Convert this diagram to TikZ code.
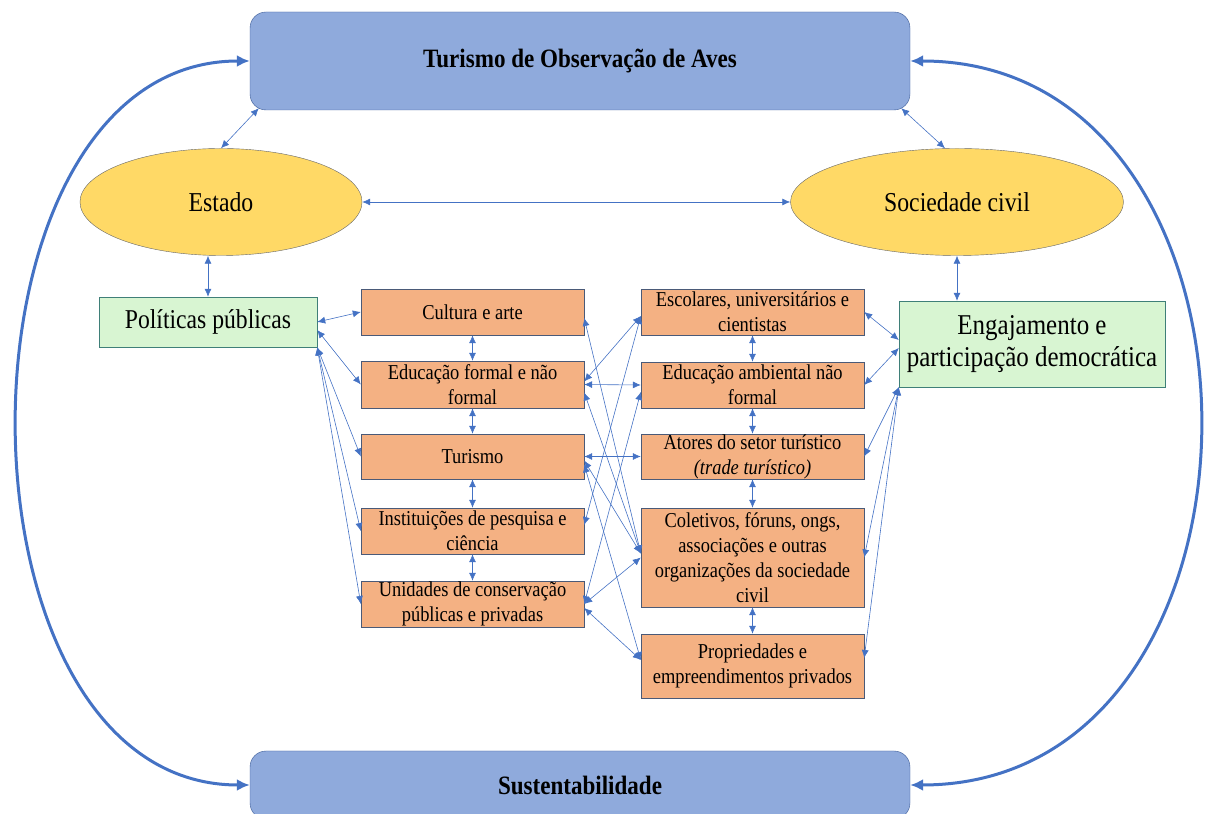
\documentclass[tikz,border=0pt]{standalone}
\usepackage{fontspec}
\setmainfont[FakeStretch=0.87]{Liberation Serif}
\usetikzlibrary{arrows.meta,shapes.geometric}
\definecolor{boxblue}{HTML}{8FAADC}
\definecolor{lineblue}{HTML}{4472C4}
\definecolor{darkblue}{HTML}{3A5A96}
\definecolor{ovalyellow}{HTML}{FFD966}
\definecolor{mintgreen}{HTML}{D8F5D2}
\definecolor{tealedge}{HTML}{3F7F78}
\definecolor{boxorange}{HTML}{F4B183}
\definecolor{slateedge}{HTML}{4A5A78}

\begin{document}
\begin{tikzpicture}[x=1pt,y=1pt,
  mainbox/.style={draw=darkblue, fill=boxblue, rounded corners=16pt, minimum width=660pt, inner sep=0pt, font=\fontsize{26.5}{30}\selectfont\bfseries},
  actor/.style={ellipse, draw=black!60, fill=ovalyellow, minimum height=107pt, inner sep=0pt, font=\fontsize{27.3}{30}\selectfont},
  greenbox/.style={draw=tealedge, fill=mintgreen, inner sep=0pt, align=center},
  orangebox/.style={draw=slateedge, fill=boxorange, minimum width=223pt, minimum height=46pt, inner sep=0pt, align=center, font=\fontsize{21.2}{25}\selectfont},
  relation/.style={draw=lineblue, line width=0.6pt, {Latex[length=8pt,width=7pt]}-{Latex[length=8pt,width=7pt]}},
  cyclearrow/.style={draw=lineblue, line width=3pt, {Latex[length=13pt,width=12pt]}-{Latex[length=13pt,width=12pt]}}
]
\useasboundingbox (0,0) rectangle (1205,814);
\clip (0,0) rectangle (1205,814);

\node[mainbox, minimum height=98pt] (aves) at (580,753) {Turismo de Observação de Aves};
\node[mainbox, minimum height=68pt] (sust) at (580,29) {Sustentabilidade};
\node[actor, minimum width=282pt] (estado) at (221,612) {Estado};
\node[actor, minimum width=333pt] (civil) at (957,612) {Sociedade civil};
\node[greenbox, minimum width=218pt, minimum height=50pt, font=\fontsize{27.2}{30}\selectfont] (politicas) at (208,492) {Políticas públicas};
\node[greenbox, minimum width=266pt, minimum height=86pt, font=\fontsize{28.7}{32}\selectfont] (engaj) at (1032,470) {Engajamento e\\participação democrática};

\node[orangebox] (cultura) at (472.5,502) {Cultura e arte};
\node[orangebox, minimum height=47pt] (edform) at (472.5,429.5) {Educação formal e não\\formal};
\node[orangebox, minimum height=45pt] (turismo) at (472.5,357.5) {Turismo};
\node[orangebox] (instit) at (472.5,283) {Instituições de pesquisa e\\ciência};
\node[orangebox] (unidades) at (472.5,210) {Unidades de conservação\\públicas e privadas};

\node[orangebox] (escolares) at (752.5,502) {Escolares, universitários e\\cientistas};
\node[orangebox] (edamb) at (752.5,429) {Educação ambiental não\\formal};
\node[orangebox, minimum height=45pt] (atores) at (752.5,357.5) {Atores do setor turístico\\\textit{(trade turístico)}};
\node[orangebox, minimum height=99pt] (coletivos) at (752.5,256.5) {Coletivos, fóruns, ongs,\\associações e outras\\organizações da sociedade\\civil};
\node[orangebox, minimum height=64pt] (propried) at (752.5,148) {Propriedades e\\empreendimentos privados};

\draw[cyclearrow] (aves.west) .. controls +(-309,0) and +(-309,0) .. (sust.west);
\draw[cyclearrow] (aves.east) .. controls +(385,0) and +(385,0) .. (sust.east);

\draw[relation] ([xshift=9pt,yshift=2pt]aves.south west) -- (estado.north);
\draw[relation] ([xshift=-9pt,yshift=2pt]aves.south east) -- ([xshift=-12pt]civil.north);
\draw[relation] (estado.east) -- (civil.west);
\draw[relation] (politicas.north) -- (politicas.north |- estado.south);
\draw[relation] (civil.south) -- (civil.south |- engaj.north);

\draw[relation] (politicas.east) -- (cultura.west);
\draw[relation] ([yshift=-8pt]politicas.east) -- (edform.west);
\foreach \b in {turismo,instit,unidades}
  \draw[relation] (politicas.south east) -- (\b.west);

\draw[relation] (escolares.east) -- ([yshift=4pt]engaj.west);
\draw[relation] (edamb.east) -- ([yshift=-4pt]engaj.west);
\draw[relation] (atores.east) -- (engaj.south west);
\draw[relation] (coletivos.east) -- (engaj.south west);
\draw[relation] ([yshift=8pt]propried.east) -- (engaj.south west);

\foreach \a/\b in {cultura/edform,edform/turismo,turismo/instit,instit/unidades,escolares/edamb,edamb/atores,atores/coletivos,coletivos/propried}
  \draw[relation] (\a.south) -- (\b.north);

\draw[relation] (edform.east) -- (edamb.west);
\draw[relation] (turismo.east) -- (atores.west);
\draw[relation] ([yshift=3pt]edform.east) -- ([yshift=-4pt]escolares.west);
\draw[relation] ([yshift=6pt]instit.east) -- ([yshift=-4pt]escolares.west);
\draw[relation] ([yshift=-6pt]cultura.east) -- ([yshift=4pt]coletivos.west);
\draw[relation] ([yshift=-8pt]edform.east) -- ([yshift=4pt]coletivos.west);
\draw[relation] ([yshift=-4pt]turismo.east) -- ([yshift=4pt]coletivos.west);
\draw[relation] ([yshift=-8pt]turismo.east) -- ([yshift=6pt]propried.west);
\draw[relation] (unidades.east) -- ([yshift=-7pt]edamb.west);
\draw[relation] (unidades.east) -- (coletivos.west);
\draw[relation] ([yshift=-4pt]unidades.east) -- ([yshift=6pt]propried.west);
\end{tikzpicture}
\end{document}
